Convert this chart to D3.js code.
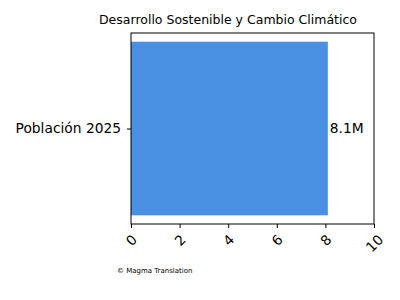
<!DOCTYPE html>
<html><head><meta charset="utf-8">
<script src="https://cdn.jsdelivr.net/npm/d3@7"></script>
<style>body{margin:0;background:#fff}svg{display:block}text{font-family:"DejaVu Sans",sans-serif}</style>
</head><body><svg id="c" width="400" height="300"></svg>
<script>
const categories = ["Población 2025"];
const values = [8.1];
const valueLabels = ["8.1M"];
const xTicks = [0, 2, 4, 6, 8, 10];
const title = "Desarrollo Sostenible y Cambio Climático";
const footer = "© Magma Translation";

const svg = d3.select("#c");
const m = {l: 131, r: 374, t: 33, b: 224};
const x = d3.scaleLinear().domain([0, 10]).range([m.l, m.r]);
const y = d3.scaleLinear().domain([-0.44, 0.44]).range([m.b, m.t]);

svg.append("text").attr("x", 228).attr("y", 24).attr("text-anchor", "middle")
  .style("font-size", "12.5px").text(title);

svg.selectAll("rect.bar").data(values).enter().append("rect").attr("class", "bar")
  .attr("x", x(0)).attr("width", d => x(d) - x(0))
  .attr("y", (d, i) => y(i + 0.4)).attr("height", (d, i) => y(i - 0.4) - y(i + 0.4))
  .attr("fill", "#4a90e2");

svg.selectAll("text.vl").data(values).enter().append("text").attr("class", "vl")
  .attr("x", d => x(d) + 2).attr("y", (d, i) => y(i)).attr("dy", "0.35em")
  .style("font-size", "13.8px").text((d, i) => valueLabels[i]);

svg.append("rect").attr("x", m.l).attr("y", m.t).attr("width", m.r - m.l).attr("height", m.b - m.t)
  .attr("fill", "none").attr("stroke", "#000").attr("stroke-width", 1);

const xa = svg.append("g").attr("transform", `translate(0,${m.b})`)
  .call(d3.axisBottom(x).tickValues(xTicks).tickSize(4).tickFormat(d3.format("d")));
xa.select(".domain").remove();
xa.selectAll("text").style("font-size", "13.8px").attr("text-anchor", "middle")
  .attr("y", 0).attr("dy", "0.35em")
  .each(function() {
    const b = this.getBBox();
    const rh = (b.width + b.height) * Math.SQRT1_2;
    const cy = 7.5 + rh / 2;
    d3.select(this).attr("transform", `translate(0,${cy}) rotate(-45)`);
  });

const ya = svg.append("g").attr("transform", `translate(${m.l},0)`)
  .call(d3.axisLeft(d3.scaleOrdinal().domain(categories).range([y(0)])).tickSize(4));
ya.select(".domain").remove();
ya.selectAll("text").style("font-size", "13.8px").attr("x", -10);

svg.append("text").attr("x", 117).attr("y", 273).style("font-size", "7px").attr("fill", "#000").text(footer);
</script></body></html>
